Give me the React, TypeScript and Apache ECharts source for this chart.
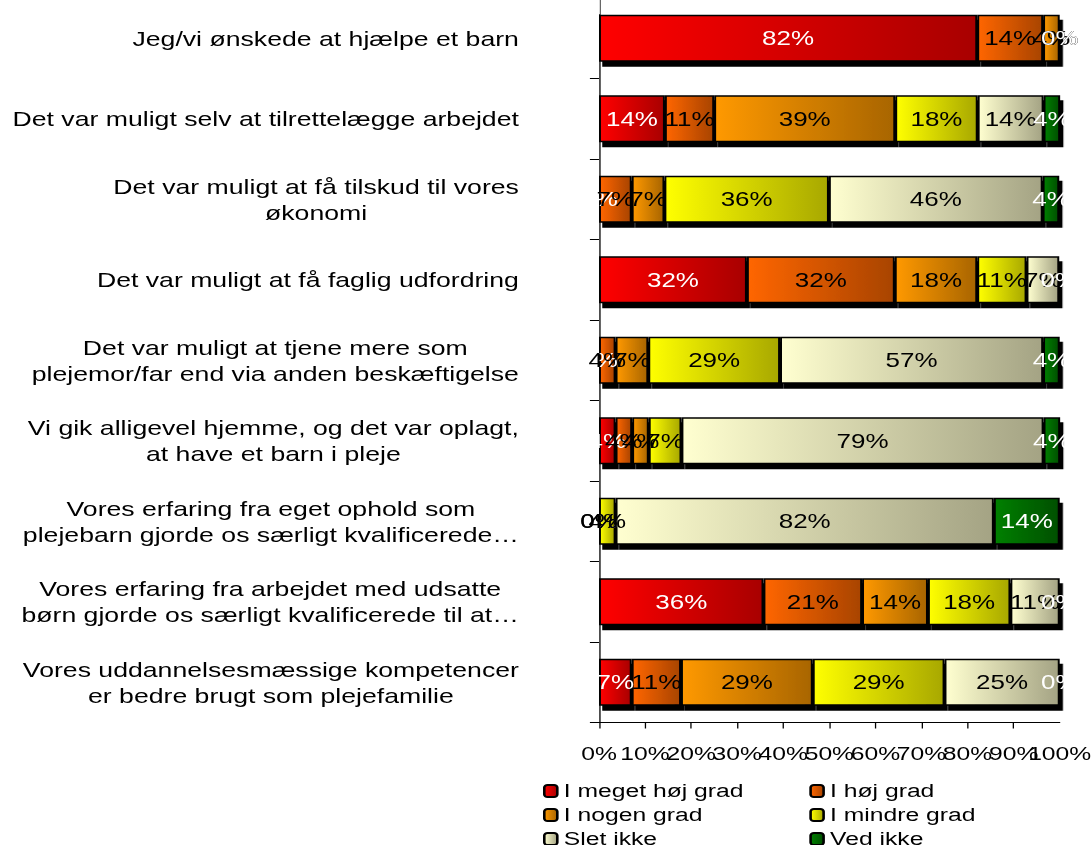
import React, { useEffect, useRef } from 'react';
import * as echarts from 'echarts';

const categories = [
  'Jeg/vi ønskede at hjælpe et barn',
  'Det var muligt selv at tilrettelægge arbejdet',
  'Det var muligt at få tilskud til vores\nøkonomi',
  'Det var muligt at få faglig udfordring',
  'Det var muligt at tjene mere som\nplejemor/far end via anden beskæftigelse',
  'Vi gik alligevel hjemme, og det var oplagt,\nat have et barn i pleje',
  'Vores erfaring fra eget ophold som\nplejebarn gjorde os særligt kvalificerede…',
  'Vores erfaring fra arbejdet med udsatte\nbørn gjorde os særligt kvalificerede til at…',
  'Vores uddannelsesmæssige kompetencer\ner bedre brugt som plejefamilie',
];

const seriesNames = ['I meget høj grad', 'I høj grad', 'I nogen grad', 'I mindre grad', 'Slet ikke', 'Ved ikke'];

const megetHoejGrad = [82.1, 14.3, 0, 32.1, 0, 3.6, 0, 35.7, 7.1];
const hoejGrad = [14.3, 10.7, 7.1, 32.1, 3.6, 3.6, 0, 21.4, 10.7];
const nogenGrad = [3.6, 39.3, 7.1, 17.9, 7.1, 3.6, 0, 14.3, 28.6];
const mindreGrad = [0, 17.9, 35.7, 10.7, 28.6, 7.1, 3.6, 17.9, 28.6];
const sletIkke = [0, 14.3, 46.4, 7.1, 57.1, 78.6, 82.1, 10.7, 25.0];
const vedIkke = [0, 3.6, 3.6, 0, 3.6, 3.6, 14.3, 0, 0];

const seriesValues = [megetHoejGrad, hoejGrad, nogenGrad, mindreGrad, sletIkke, vedIkke];
const gradientStops: [string, string][] = [
  ['#ff0000', '#a80000'],
  ['#ff6600', '#a84400'],
  ['#ff9900', '#a86500'],
  ['#ffff00', '#a8a800'],
  ['#ffffd0', '#a4a384'],
  ['#008000', '#004f00'],
];
const labelColors = ['#ffffff', '#000000', '#000000', '#000000', '#000000', '#ffffff'];

const FONT = '"Liberation Sans", Arial, sans-serif';
// the reference picture is stretched horizontally; draw narrower and stretch the same way
const STRETCH = 1.3;
const W = 1091 / STRETCH;
const AXIS_X = 599 / STRETCH;

const xLabelStyle = {
  fontFamily: FONT,
  fontSize: 19,
  color: '#000',
  margin: 22,
};

export default function App() {
  const ref = useRef<HTMLDivElement>(null);
  useEffect(() => {
    if (!ref.current) return;
    const chart = echarts.init(ref.current, undefined, { renderer: 'svg' });
    const series = seriesNames.map((name, i) => ({
      name,
      type: 'bar',
      stack: 'total',
      barWidth: 47,
      data: seriesValues[i],
      itemStyle: {
        color: new echarts.graphic.LinearGradient(0, 0, 1, 0, [
          { offset: 0, color: gradientStops[i][0] },
          { offset: 1, color: gradientStops[i][1] },
        ]),
        borderColor: '#000',
        borderWidth: 1.5,
        shadowColor: '#000',
        shadowBlur: 0,
        shadowOffsetX: 2.5,
        shadowOffsetY: 5,
      },
      label: {
        show: true,
        position: 'inside',
        color: labelColors[i],
        fontFamily: FONT,
        fontSize: 20,
        formatter: (p: any) => Math.round(p.value) + '%',
      },
    }));
    chart.setOption({
      animation: false,
      backgroundColor: '#fff',
      grid: {
        left: AXIS_X,
        right: 31 / STRETCH,
        top: -2,
        bottom: 122.5,
        containLabel: false,
        outerBoundsMode: 'none',
      },
      graphic: [
        {
          type: 'rect',
          z: 100,
          shape: { x: AXIS_X - 30, y: 0, width: 30.6, height: 14 },
          style: { fill: '#fff' },
        },
      ],
      legend: {
        left: 543 / STRETCH,
        top: 779,
        width: 420,
        itemWidth: 10,
        itemHeight: 12,
        itemGap: 0,
        padding: 0,
        data: seriesNames,
        textStyle: {
          fontFamily: FONT,
          fontSize: 19,
          color: '#000',
          width: 265 / STRETCH - 15,
          lineHeight: 24,
        },
      },
      xAxis: [
        {
          type: 'value',
          position: 'bottom',
          min: 0,
          max: 100,
          interval: 10,
          axisLine: { show: true, lineStyle: { color: '#000', width: 1 } },
          axisTick: { show: true, length: 6, lineStyle: { color: '#000' } },
          splitLine: { show: false },
          axisLabel: {
            ...xLabelStyle,
            formatter: '{value}%',
            showMinLabel: true,
            showMaxLabel: false,
          },
        },
        {
          type: 'value',
          position: 'bottom',
          offset: 0,
          min: 0,
          max: 100,
          interval: 10,
          axisLine: { show: false },
          axisTick: { show: false },
          splitLine: { show: false },
          axisLabel: {
            ...xLabelStyle,
            formatter: (v: number) => (v === 100 ? '100%' : ''),
            showMaxLabel: true,
          },
        },
      ],
      yAxis: {
        type: 'category',
        inverse: true,
        data: categories,
        axisLine: { show: true, lineStyle: { color: '#000', width: 1 } },
        axisTick: { show: true, length: 7, lineStyle: { color: '#000' } },
        axisLabel: {
          margin: 80 / STRETCH,
          align: 'right',
          formatter: (v: string) => v.split('\n').map((l) => '{c|' + l + '}').join('\n'),
          rich: {
            c: {
              align: 'center',
              fontFamily: FONT,
              fontSize: 20.5,
              color: '#000',
              lineHeight: 26,
            },
          },
        },
      },
      series,
    });
    return () => chart.dispose();
  }, []);
  return (
    <div style={{ width: 1091, height: 845, position: 'absolute', left: 0, top: 0, overflow: 'hidden', background: '#fff' }}>
      <div
        ref={ref}
        style={{ width: W, height: 845, transform: `scaleX(${STRETCH})`, transformOrigin: '0 0' }}
      />
    </div>
  );
}
